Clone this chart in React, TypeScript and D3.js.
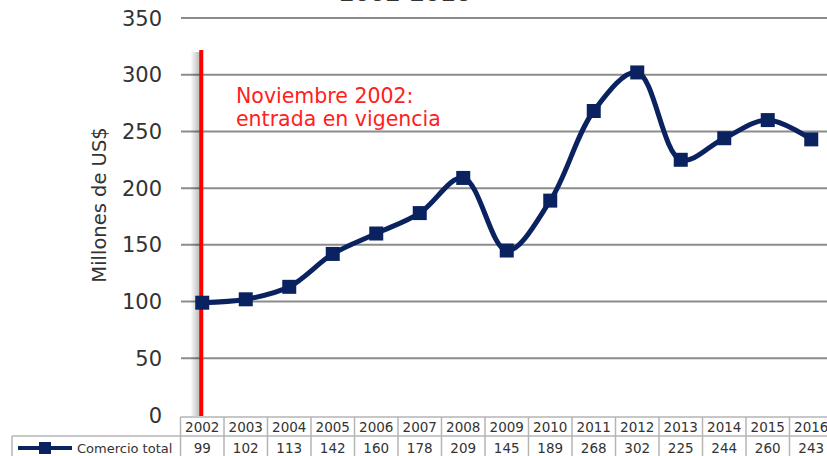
import React, { useEffect, useRef } from "react";
import * as d3 from "d3";

const years = ["2002", "2003", "2004", "2005", "2006", "2007", "2008", "2009", "2010", "2011", "2012", "2013", "2014", "2015", "2016"];
const comercio = [99, 102, 113, 142, 160, 178, 209, 145, 189, 268, 302, 225, 244, 260, 243];
const yTicks = [0, 50, 100, 150, 200, 250, 300, 350];
const seriesName = "Comercio total";
const annotation = ["Noviembre 2002:", "entrada en vigencia"];
const title = "2002-2016";

const W = 827;
const H = 456;
const navy = "#0a2260";
const font = "'DejaVu Sans', sans-serif";

export default function App() {
  const ref = useRef<SVGSVGElement>(null);

  useEffect(() => {
    const svg = d3.select(ref.current);
    svg.selectAll("*").remove();

    const left = 180.5;
    const bw = 43.5;
    const x = d3.scaleBand().domain(years).range([left, left + bw * years.length]);
    const y = d3.scaleLinear().domain([0, 350]).range([415, 18]);
    const cx = (d: string) => (x(d) as number) + bw / 2;

    // title, cut off at the top edge
    svg.append("text")
      .attr("x", 405).attr("y", 1)
      .attr("text-anchor", "middle")
      .style("font-family", font).style("font-size", "22px").style("font-weight", "bold")
      .attr("fill", "#333")
      .text(title);

    // gridlines
    svg.append("g").selectAll("line")
      .data(yTicks.filter(d => d > 0))
      .enter().append("line")
      .attr("x1", 181).attr("x2", W)
      .attr("y1", d => y(d)).attr("y2", d => y(d))
      .attr("stroke", "#8c8c8c").attr("stroke-width", 2);

    // y tick labels
    svg.append("g").selectAll("text")
      .data(yTicks)
      .enter().append("text")
      .attr("x", 162).attr("y", d => y(d) + 7.5)
      .attr("text-anchor", "end")
      .style("font-family", font).style("font-size", "21px")
      .attr("fill", "#333")
      .text(d => d);

    // y axis title
    svg.append("text")
      .attr("transform", `translate(106, 205) rotate(-90)`)
      .attr("text-anchor", "middle")
      .style("font-family", font).style("font-size", "19.5px")
      .attr("fill", "#333")
      .text("Millones de US$");

    // red vertical marker with soft shadow on its left
    const defs = svg.append("defs");
    const grad = defs.append("linearGradient").attr("id", "shg").attr("x1", "0").attr("x2", "1");
    grad.append("stop").attr("offset", "0").attr("stop-color", "#000").attr("stop-opacity", 0);
    grad.append("stop").attr("offset", "1").attr("stop-color", "#000").attr("stop-opacity", 0.28);
    const lx = cx(years[0]) - 1;
    svg.append("rect")
      .attr("x", lx - 11).attr("y", 52).attr("width", 10).attr("height", 364)
      .attr("fill", "url(#shg)");
    svg.append("rect")
      .attr("x", lx - 2).attr("y", 50).attr("width", 4).attr("height", 366)
      .attr("fill", "#ff0000");

    // annotation
    svg.append("text")
      .style("font-family", font).style("font-size", "20.5px")
      .attr("fill", "#ff2020")
      .selectAll("tspan")
      .data(annotation)
      .enter().append("tspan")
      .attr("x", 236).attr("y", (d, i) => 103 + i * 23)
      .text(d => d);

    // series line
    const line = d3.line<number>()
      .x((d, i) => cx(years[i]))
      .y(d => y(d))
      .curve(d3.curveCatmullRom.alpha(0.5));

    svg.append("path")
      .datum(comercio)
      .attr("d", line)
      .attr("fill", "none")
      .attr("stroke", navy).attr("stroke-width", 5);

    svg.append("g").selectAll("rect")
      .data(comercio)
      .enter().append("rect")
      .attr("x", (d, i) => cx(years[i]) - 7)
      .attr("y", d => y(d) - 7)
      .attr("width", 14).attr("height", 14)
      .attr("fill", navy);

    // data table
    const t = svg.append("g");
    const r1 = 417, r2 = 436, r3 = 458;
    const border = "#b5b5b5";
    t.append("line").attr("x1", left).attr("x2", W).attr("y1", r1).attr("y2", r1).attr("stroke", border).attr("stroke-width", 1.5);
    t.append("line").attr("x1", 12).attr("x2", W).attr("y1", r2).attr("y2", r2).attr("stroke", border).attr("stroke-width", 1.5);
    t.append("line").attr("x1", 12).attr("x2", 12).attr("y1", r2).attr("y2", r3).attr("stroke", border).attr("stroke-width", 1.5);
    t.selectAll("line.v")
      .data(years)
      .enter().append("line")
      .attr("class", "v")
      .attr("x1", d => x(d) as number).attr("x2", d => x(d) as number)
      .attr("y1", r1).attr("y2", r3)
      .attr("stroke", border).attr("stroke-width", 1.5);

    t.selectAll("text.yr")
      .data(years)
      .enter().append("text")
      .attr("class", "yr")
      .attr("x", d => cx(d)).attr("y", r2 - 4)
      .attr("text-anchor", "middle")
      .style("font-family", font).style("font-size", "13.5px")
      .attr("fill", "#333")
      .text(d => d);

    t.selectAll("text.val")
      .data(comercio)
      .enter().append("text")
      .attr("class", "val")
      .attr("x", (d, i) => cx(years[i])).attr("y", r2 + 17)
      .attr("text-anchor", "middle")
      .style("font-family", font).style("font-size", "13.5px")
      .attr("fill", "#333")
      .text(d => d);

    // legend key
    t.append("line")
      .attr("x1", 18).attr("x2", 72).attr("y1", 448).attr("y2", 448)
      .attr("stroke", navy).attr("stroke-width", 4);
    t.append("rect")
      .attr("x", 39).attr("y", 442).attr("width", 12).attr("height", 12)
      .attr("fill", navy);
    t.append("text")
      .attr("x", 77).attr("y", 453)
      .style("font-family", font).style("font-size", "13px")
      .attr("fill", "#333")
      .text(seriesName);
  }, []);

  return (
    <svg ref={ref} width={W} height={H} style={{ position: "absolute", left: 0, top: 0, background: "#fff" }} />
  );
}
